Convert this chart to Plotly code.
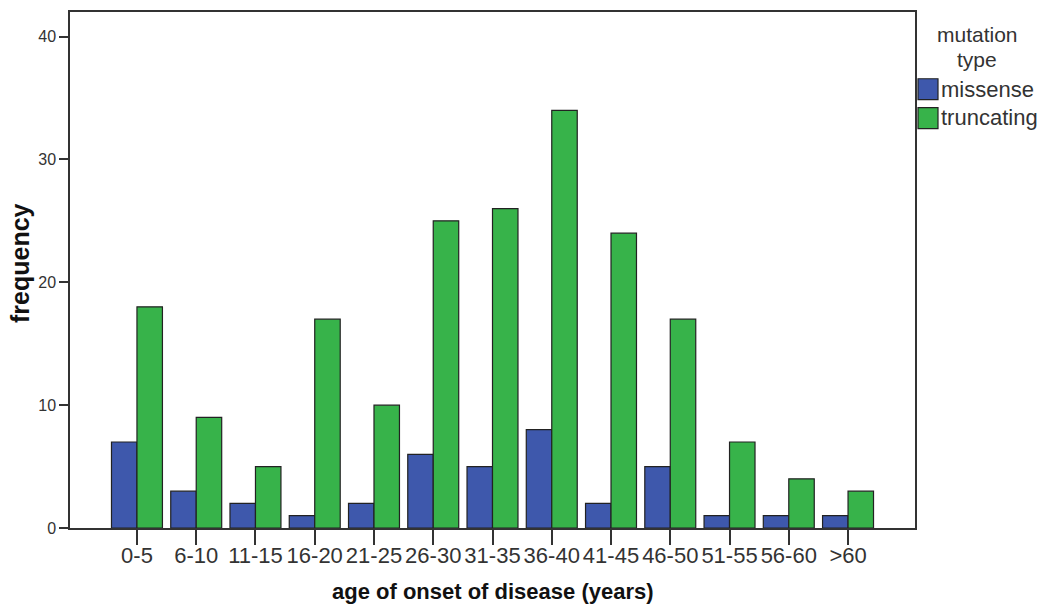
import plotly.graph_objects as go

categories = ["0-5", "6-10", "11-15", "16-20", "21-25", "26-30", "31-35",
              "36-40", "41-45", "46-50", "51-55", "56-60", ">60"]
missense = [7, 3, 2, 1, 2, 6, 5, 8, 2, 5, 1, 1, 1]
truncating = [18, 9, 5, 17, 10, 25, 26, 34, 24, 17, 7, 4, 3]
y_ticks = [0, 10, 20, 30, 40]

BLUE = "#3E58AC"
GREEN = "#37B34A"
EDGE = "#222222"
AXIS = "#333333"
FONT = "Liberation Sans, Arial, sans-serif"

L, R, T, B = 70, 125, 10, 84
W, H = 1040, 612
pw, ph = W - L - R, H - T - B


def px(x):
    return (x - L) / pw


def py(y):
    return (H - B - y) / ph


fig = go.Figure()
fig.add_trace(go.Bar(x=categories, y=missense, name="missense",
                     marker=dict(color=BLUE, line=dict(color=EDGE, width=1.2))))
fig.add_trace(go.Bar(x=categories, y=truncating, name="truncating",
                     marker=dict(color=GREEN, line=dict(color=EDGE, width=1.2))))

fig.update_layout(
    width=W, height=H,
    margin=dict(l=L, r=R, t=T, b=B),
    paper_bgcolor="white", plot_bgcolor="white",
    barmode="group", bargap=0.14, bargroupgap=0,
    showlegend=False,
    font=dict(family=FONT, color=AXIS),
)
fig.update_xaxes(
    type="category", range=[-1.13, len(categories) - 1 + 1.13],
    showline=True, linecolor=AXIS, linewidth=1.5, mirror=True,
    ticks="outside", ticklen=15, tickwidth=1.5, tickcolor=AXIS,
    tickangle=0, tickfont=dict(size=22, color="#333333", family=FONT),
    ticklabelstandoff=-8,
    showgrid=False, zeroline=False,
)
fig.update_yaxes(
    range=[0, 42], tickvals=y_ticks,
    showline=True, linecolor=AXIS, linewidth=1.5, mirror=True,
    ticks="outside", ticklen=9, tickwidth=1.5, tickcolor=AXIS,
    tickfont=dict(size=16, color="#333333", family=FONT),
    showgrid=False, zeroline=False,
)

ann = []
ann.append(dict(text="<b>age of onset of disease (years)</b>", xref="paper", yref="paper",
                x=0.5, y=py(592), xanchor="center", yanchor="middle", showarrow=False,
                font=dict(size=22, color="#111111", family=FONT)))
ann.append(dict(text="<b>frequency</b>", xref="paper", yref="paper",
                x=px(20), y=py(262), xanchor="center", yanchor="middle", showarrow=False,
                textangle=-90, font=dict(size=25, color="#111111", family=FONT)))
ann.append(dict(text="mutation", xref="paper", yref="paper",
                x=px(977), y=py(33), xanchor="center", yanchor="middle", showarrow=False,
                font=dict(size=21, color="#333333", family=FONT)))
ann.append(dict(text="type", xref="paper", yref="paper",
                x=px(977), y=py(58), xanchor="center", yanchor="middle", showarrow=False,
                font=dict(size=21, color="#333333", family=FONT)))
ann.append(dict(text="missense", xref="paper", yref="paper",
                x=px(939), y=py(88), xanchor="left", yanchor="middle", showarrow=False,
                font=dict(size=22, color="#333333", family=FONT)))
ann.append(dict(text="truncating", xref="paper", yref="paper",
                x=px(939), y=py(116), xanchor="left", yanchor="middle", showarrow=False,
                font=dict(size=22, color="#333333", family=FONT)))

shapes = [
    dict(type="rect", xref="paper", yref="paper", x0=px(918), x1=px(938),
         y0=py(98), y1=py(77), fillcolor=BLUE, line=dict(color=EDGE, width=1.2)),
    dict(type="rect", xref="paper", yref="paper", x0=px(918), x1=px(938),
         y0=py(127), y1=py(106), fillcolor=GREEN, line=dict(color=EDGE, width=1.2)),
]
fig.update_layout(annotations=ann, shapes=shapes)

fig.write_html("out.html")
